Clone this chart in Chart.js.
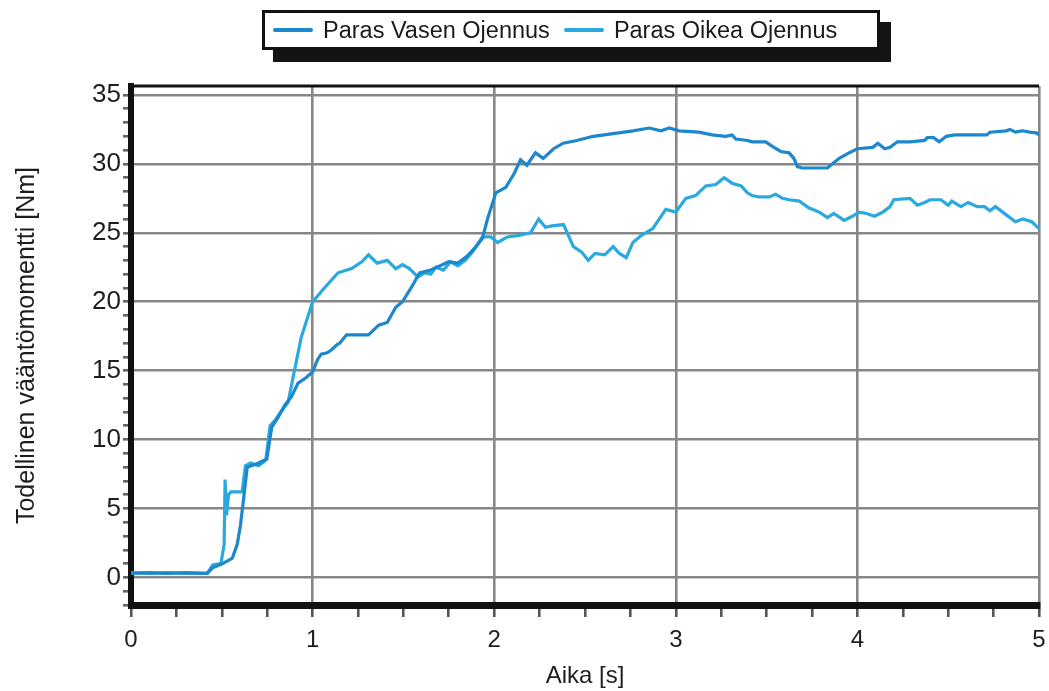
<!DOCTYPE html>
<html>
<head>
<meta charset="utf-8">
<script src="https://cdn.jsdelivr.net/npm/chart.js@4/dist/chart.umd.min.js"></script>
<style>
  html, body { margin: 0; padding: 0; background: #fff; }
  #wrap { position: relative; width: 1049px; height: 691px; }
  #legend {
    position: absolute; left: 262px; top: 10px; width: 618px; height: 40px;
    box-sizing: border-box; border: 3px solid #111; background: #fff;
    box-shadow: 11px 12px 0 #141414;
    font-family: "Liberation Sans", Arial, sans-serif; font-size: 23.5px; color: #1a1a1a;
    display: flex; align-items: center; padding-left: 8px;
  }
  .sw { display: inline-block; width: 40px; height: 4px; border-radius: 2px; }
  .lb { margin-left: 10px; margin-right: 14px; white-space: nowrap; }
</style>
</head>
<body>
<div id="wrap">
  <canvas id="c" width="1049" height="691"></canvas>
  <div id="legend">
    <span class="sw" id="sw0"></span><span class="lb" id="lb0"></span>
    <span class="sw" id="sw1"></span><span class="lb" id="lb1"></span>
  </div>
</div>
<script>
// ---- data ----
const seriesNames = ["Paras Vasen Ojennus", "Paras Oikea Ojennus"];
const xTitle = "Aika [s]";
const yTitle = "Todellinen vääntömomentti [Nm]";
const xTickLabels = [0, 1, 2, 3, 4, 5];
const yTickLabels = [0, 5, 10, 15, 20, 25, 30, 35];

const vasenT = [0, 0.1, 0.2, 0.3, 0.42, 0.45, 0.505, 0.558, 0.585, 0.603, 0.62, 0.64, 0.703, 0.748, 0.775, 0.81, 0.847, 0.883, 0.92, 0.965, 1.0, 1.027, 1.047, 1.08, 1.103, 1.135, 1.15, 1.187, 1.25, 1.308, 1.364, 1.411, 1.458, 1.495, 1.551, 1.589, 1.65, 1.7, 1.75, 1.8, 1.85, 1.9, 1.935, 1.963, 2.009, 2.064, 2.11, 2.145, 2.18, 2.227, 2.27, 2.327, 2.38, 2.455, 2.545, 2.655, 2.764, 2.855, 2.918, 2.964, 3.018, 3.127, 3.2, 3.275, 3.31, 3.33, 3.394, 3.42, 3.495, 3.54, 3.578, 3.624, 3.65, 3.67, 3.697, 3.835, 3.862, 3.9, 3.954, 4.0, 4.085, 4.113, 4.15, 4.18, 4.22, 4.29, 4.37, 4.385, 4.42, 4.45, 4.49, 4.535, 4.63, 4.713, 4.73, 4.82, 4.84, 4.87, 4.91, 4.95, 4.985, 5.0];
const vasenV = [0.3, 0.35, 0.3, 0.35, 0.3, 0.7, 1.0, 1.4, 2.4, 3.8, 5.7, 8.0, 8.3, 8.6, 10.9, 11.6, 12.5, 13.1, 14.1, 14.5, 14.9, 15.8, 16.2, 16.3, 16.5, 16.9, 17.0, 17.6, 17.6, 17.6, 18.3, 18.5, 19.6, 20.0, 21.2, 22.1, 22.3, 22.6, 22.9, 22.8, 23.3, 24.0, 24.6, 26.0, 27.9, 28.3, 29.3, 30.3, 29.9, 30.8, 30.4, 31.1, 31.5, 31.7, 32.0, 32.2, 32.4, 32.6, 32.4, 32.6, 32.4, 32.3, 32.1, 32.0, 32.1, 31.8, 31.7, 31.6, 31.6, 31.2, 30.9, 30.8, 30.4, 29.8, 29.7, 29.7, 30.0, 30.4, 30.8, 31.1, 31.2, 31.5, 31.1, 31.2, 31.6, 31.6, 31.7, 31.9, 31.9, 31.6, 32.0, 32.1, 32.1, 32.1, 32.3, 32.4, 32.5, 32.3, 32.4, 32.3, 32.25, 32.1];

const oikeaT = [0, 0.1, 0.2, 0.3, 0.42, 0.45, 0.495, 0.513, 0.518, 0.526, 0.537, 0.55, 0.612, 0.63, 0.658, 0.703, 0.742, 0.766, 0.793, 0.829, 0.865, 0.9, 0.937, 1.0, 1.065, 1.14, 1.215, 1.271, 1.308, 1.355, 1.411, 1.458, 1.495, 1.533, 1.58, 1.617, 1.65, 1.68, 1.72, 1.76, 1.8, 1.84, 1.88, 1.935, 1.981, 2.019, 2.073, 2.127, 2.2, 2.245, 2.282, 2.318, 2.382, 2.409, 2.436, 2.482, 2.518, 2.555, 2.609, 2.655, 2.69, 2.727, 2.764, 2.809, 2.873, 2.945, 3.0, 3.055, 3.109, 3.165, 3.22, 3.266, 3.31, 3.36, 3.394, 3.42, 3.46, 3.514, 3.55, 3.587, 3.624, 3.68, 3.734, 3.79, 3.835, 3.87, 3.927, 3.972, 4.01, 4.05, 4.094, 4.14, 4.18, 4.2, 4.29, 4.33, 4.37, 4.4, 4.46, 4.5, 4.52, 4.57, 4.61, 4.66, 4.70, 4.73, 4.76, 4.82, 4.87, 4.91, 4.96, 5.0];
const oikeaV = [0.35, 0.3, 0.35, 0.3, 0.3, 0.9, 1.0, 2.4, 7.1, 4.5, 6.0, 6.2, 6.2, 8.1, 8.3, 8.1, 8.5, 11.0, 11.4, 12.1, 12.7, 15.0, 17.4, 20.0, 21.0, 22.1, 22.4, 22.9, 23.4, 22.8, 23.0, 22.4, 22.7, 22.4, 21.8, 22.1, 22.0, 22.5, 22.3, 22.9, 22.6, 23.0, 23.6, 24.7, 24.7, 24.3, 24.7, 24.8, 25.0, 26.0, 25.4, 25.5, 25.6, 24.8, 24.0, 23.6, 23.0, 23.5, 23.4, 24.0, 23.5, 23.2, 24.3, 24.8, 25.3, 26.7, 26.5, 27.5, 27.7, 28.4, 28.5, 29.0, 28.6, 28.4, 27.9, 27.7, 27.6, 27.6, 27.8, 27.5, 27.4, 27.3, 26.8, 26.5, 26.1, 26.4, 25.9, 26.2, 26.5, 26.4, 26.2, 26.5, 26.9, 27.4, 27.5, 27.0, 27.2, 27.4, 27.4, 27.0, 27.3, 26.9, 27.2, 26.9, 26.9, 26.6, 26.9, 26.3, 25.8, 26.0, 25.8, 25.3];

const colors = ["#1c87cd", "#2aa9e0"];

// ---- build ----
const toPts = (T, V) => T.map((t, i) => ({ x: t, y: V[i] }));
document.getElementById('sw0').style.background = colors[0];
document.getElementById('sw1').style.background = colors[1];
document.getElementById('lb0').textContent = seriesNames[0];
document.getElementById('lb1').textContent = seriesNames[1];

const FONT = "'Liberation Sans', Arial, sans-serif";
const GRID = "#878787";
const near = (a, b) => Math.abs(a - b) < 1e-6;
const isMajorX = v => xTickLabels.some(t => near(t, v));
const isMajorY = v => yTickLabels.some(t => near(t, v));

const frame = {
  id: 'frame',
  beforeDatasetsDraw(chart) {
    const { ctx, chartArea: a } = chart;
    ctx.save();
    ctx.strokeStyle = '#111';
    ctx.lineWidth = 3;
    ctx.beginPath();
    ctx.moveTo(a.left, a.top);
    ctx.lineTo(a.right, a.top);
    ctx.stroke();
    ctx.restore();
  }
};

new Chart(document.getElementById('c'), {
  type: 'line',
  data: {
    datasets: [
      { label: seriesNames[0], data: toPts(vasenT, vasenV), borderColor: colors[0], borderWidth: 3.2, pointRadius: 0, tension: 0, fill: false },
      { label: seriesNames[1], data: toPts(oikeaT, oikeaV), borderColor: colors[1], borderWidth: 3.2, pointRadius: 0, tension: 0, fill: false }
    ]
  },
  options: {
    responsive: false,
    animation: false,
    devicePixelRatio: 1,
    layout: { padding: { top: 86, right: 10, left: 0, bottom: 0 } },
    plugins: { legend: { display: false }, tooltip: { enabled: false } },
    scales: {
      x: {
        type: 'linear', min: 0, max: 5,
        afterFit(s) { s.height = 86; s.paddingRight = 0; s.paddingLeft = 0; },
        ticks: {
          stepSize: 0.25, autoSkip: false, maxRotation: 0, includeBounds: false,
          color: '#1e1e1e', font: { family: FONT, size: 24 }, padding: 9,
          callback: v => isMajorX(v) ? String(Math.round(v)) : ''
        },
        grid: {
          color: c => isMajorX(c.tick.value) ? GRID : 'rgba(0,0,0,0)',
          tickColor: '#555', lineWidth: 2.6, tickLength: 12
        },
        border: { display: true, color: '#111', width: 7 },
        title: { display: true, text: xTitle, color: '#1e1e1e', font: { family: FONT, size: 24, lineHeight: 1 }, padding: { top: 0, bottom: 3 } }
      },
      y: {
        type: 'linear', min: -2, max: 35.65,
        afterFit(s) { s.width = 131; },
        ticks: {
          stepSize: 1, autoSkip: false, includeBounds: false,
          color: '#1e1e1e', font: { family: FONT, size: 26 }, padding: 2,
          callback: v => isMajorY(v) ? String(Math.round(v)) : ''
        },
        grid: {
          color: c => isMajorY(c.tick.value) ? GRID : 'rgba(0,0,0,0)',
          tickColor: '#666', lineWidth: 2.6, tickLength: 8
        },
        border: { display: true, color: '#111', width: 6 },
        title: { display: true, text: yTitle, color: '#1e1e1e', font: { family: FONT, size: 25 }, padding: { top: 12, bottom: 0 } }
      }
    }
  },
  plugins: [frame]
});
</script>
</body>
</html>
